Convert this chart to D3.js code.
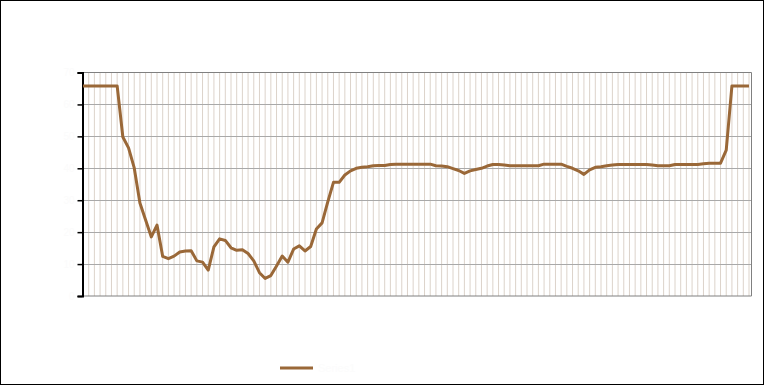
<!DOCTYPE html>
<html>
<head>
<meta charset="utf-8">
<script src="https://cdn.jsdelivr.net/npm/d3@7/dist/d3.min.js"></script>
<style>
    body { margin: 0; background: #fff; }
    text { font-family: "Liberation Sans", Arial, sans-serif; }
</style>
</head>
<body>
<div id="chart"></div>
<script>
// category labels (not legible in the source, so plain sequence numbers)
const categories = d3.range(1, 119).map(String);

const values = [
    65.8, 65.8, 65.8, 65.8, 65.8, 65.8, 65.8, 49.8, 46.4, 40.1,
    29.1, 23.8, 18.5, 22.2, 12.4, 11.7, 12.5, 13.8, 14.1, 14.2,
    11.0, 10.6, 8.1, 15.4, 17.9, 17.4, 15.1, 14.3, 14.5, 13.3,
    11.0, 7.3, 5.5, 6.4, 9.4, 12.5, 10.6, 14.7, 15.7, 14.1,
    15.5, 21.0, 22.9, 29.5, 35.6, 35.6, 37.9, 39.2, 40.0, 40.3,
    40.5, 40.8, 40.9, 40.9, 41.2, 41.3, 41.3, 41.3, 41.3, 41.3,
    41.3, 41.3, 40.8, 40.7, 40.5, 39.9, 39.3, 38.4, 39.2, 39.6,
    40.0, 40.7, 41.2, 41.2, 41.0, 40.8, 40.8, 40.8, 40.8, 40.8,
    40.8, 41.3, 41.3, 41.3, 41.3, 40.6, 40.0, 39.2, 38.1, 39.5,
    40.3, 40.5, 40.8, 41.0, 41.2, 41.2, 41.2, 41.2, 41.2, 41.2,
    41.0, 40.8, 40.8, 40.8, 41.2, 41.2, 41.2, 41.2, 41.2, 41.4,
    41.6, 41.6, 41.6, 45.7, 65.8, 65.8, 65.8, 65.8
];

const yTicks = [0, 10, 20, 30, 40, 50, 60, 70];

const seriesName = "Series1";

function drawChart() {
    let width = 765,
        height = 386,
        plotLeft = 82.5,
        plotRight = 751.5,
        plotTop = 72.5,
        plotBottom = 296,
        lineColor = "#9a6838";

    let svg = d3.select("#chart")
        .append("svg")
        .attr("width", width)
        .attr("height", height);

    // chart border
    svg.append("rect")
        .attr("x", 0.5)
        .attr("y", 0.5)
        .attr("width", 763)
        .attr("height", 384)
        .style("fill", "#fff")
        .style("stroke", "#000");

    let x = d3.scalePoint()
        .domain(categories)
        .range([83, 749]);

    let y = d3.scaleLinear()
        .domain([0, 70])
        .range([plotBottom, plotTop]);

    // vertical gridlines, one per category
    svg.append("g")
        .attr("class", "xgrid")
        .attr("transform", "translate(0," + plotBottom + ")")
        .call(d3.axisBottom(x).tickSize(-(plotBottom - plotTop)).tickFormat("").offset(0))
        .call(g => g.select(".domain").remove());

    d3.selectAll(".xgrid .tick line")
        .style("stroke", "#dcd3ca")
        .style("stroke-width", 1);

    // horizontal gridlines
    svg.append("g")
        .selectAll("line")
        .data(yTicks.slice(1, -1))
        .enter()
        .append("line")
        .attr("x1", plotLeft)
        .attr("x2", plotRight)
        .attr("y1", d => Math.round(y(d)) + 0.5)
        .attr("y2", d => Math.round(y(d)) + 0.5)
        .style("stroke", "#a9a9a9");

    // plot area frame (top, right, bottom)
    svg.append("path")
        .attr("d", "M" + plotLeft + "," + plotTop + "H" + plotRight + "V" + plotBottom + "H" + plotLeft)
        .style("fill", "none")
        .style("stroke", "#808080");

    // y axis
    let yAxis = svg.append("g")
        .attr("class", "yaxis")
        .attr("transform", "translate(" + plotLeft + ",0)")
        .call(d3.axisLeft(y).tickValues(yTicks).tickSize(5).tickPadding(3));

    yAxis.select(".domain")
        .style("stroke", "#000")
        .style("stroke-width", 2);

    yAxis.selectAll(".tick line")
        .style("stroke", "#000")
        .style("stroke-width", 1.5);

    yAxis.selectAll(".tick text")
        .style("fill", "#fbfbfb")
        .style("font-size", "10px");

    // series line
    let line = d3.line()
        .x((d, i) => x(categories[i]))
        .y(d => y(d));

    svg.append("path")
        .datum(values)
        .attr("d", line)
        .style("fill", "none")
        .style("stroke", lineColor)
        .style("stroke-width", 3)
        .style("stroke-linejoin", "round");

    // legend
    svg.append("line")
        .attr("x1", 280)
        .attr("x2", 313)
        .attr("y1", 368)
        .attr("y2", 368)
        .style("stroke", lineColor)
        .style("stroke-width", 3);

    svg.append("text")
        .attr("x", 318)
        .attr("y", 372)
        .text(seriesName)
        .style("fill", "#fcfcfc")
        .style("font-size", "11px");
}

drawChart();
</script>
</body>
</html>
